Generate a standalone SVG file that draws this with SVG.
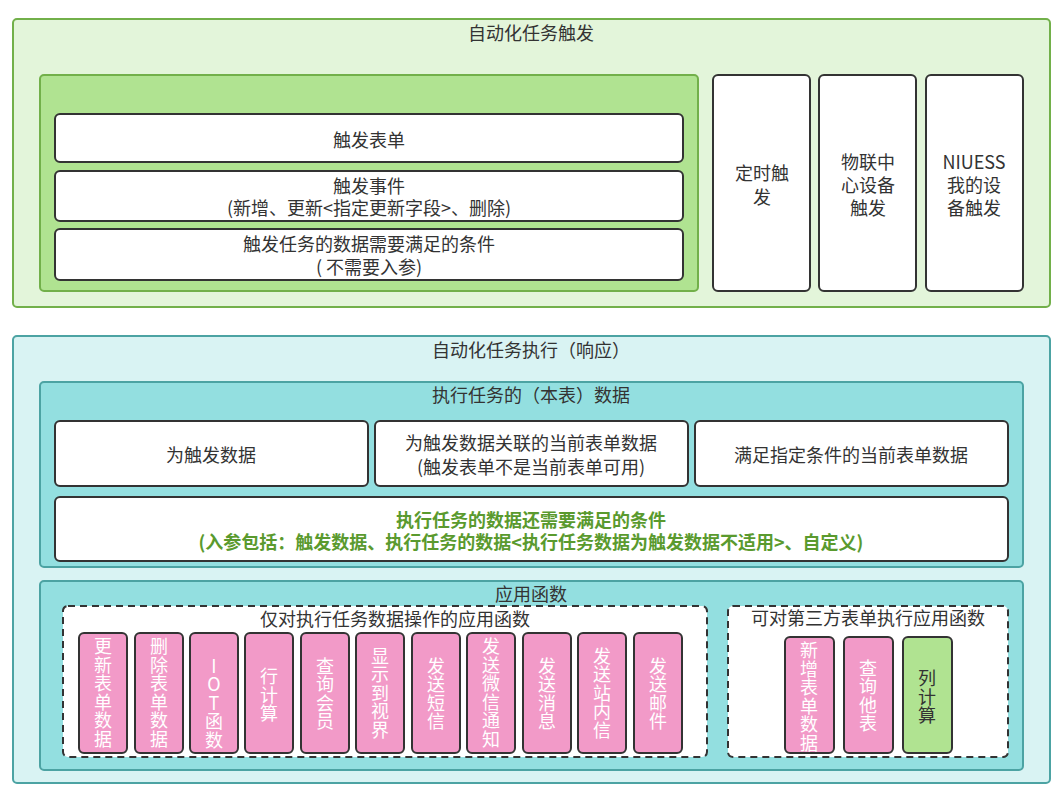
<svg xmlns="http://www.w3.org/2000/svg" width="1062" height="795" viewBox="0 0 1062 795">
<style>
text{font-family:"Noto Sans CJK SC","Liberation Sans",sans-serif;font-size:18px;fill:#333;text-anchor:middle;dominant-baseline:central}
.og{fill:#e3f5da;stroke:#72b04a;stroke-width:2}
.ig{fill:#b0e391;stroke:#72b04a;stroke-width:2}
.ot{fill:#d9f3f3;stroke:#4ca3a3;stroke-width:2}
.it{fill:#93dfe0;stroke:#4ca3a3;stroke-width:2}
.wb{fill:#fff;stroke:#333;stroke-width:2}
.db{fill:#fff;stroke:#333;stroke-width:2;stroke-dasharray:7 5}
.pk{fill:#f29ac8;stroke:#333;stroke-width:2}
.gb{fill:#b0e391;stroke:#333;stroke-width:2}
.v{writing-mode:vertical-rl;text-orientation:upright;letter-spacing:0.5px}
.vw{fill:#fff}
.gt{fill:#5a9a2e;font-weight:bold}
</style>
<g id="trigger">
<rect class="og" x="13" y="19" width="1037" height="288" rx="4"/>
<text x="531" y="32">自动化任务触发</text>
</g>
<g id="trigger-form-group">
<rect class="ig" x="40" y="75" width="658" height="216" rx="4"/>
</g>
<g id="trigger-form">
<rect class="wb" x="55" y="114" width="628" height="48" rx="5"/>
<text x="369" y="139">触发表单</text>
</g>
<g id="trigger-event">
<rect class="wb" x="55" y="171" width="628" height="50" rx="5"/>
<text x="369" y="185">触发事件</text>
<text x="369" y="207">(新增、更新&lt;指定更新字段&gt;、删除)</text>
</g>
<g id="trigger-condition">
<rect class="wb" x="55" y="229" width="628" height="51" rx="5"/>
<text x="369" y="243">触发任务的数据需要满足的条件</text>
<text x="369" y="266">( 不需要入参)</text>
</g>
<g id="timer">
<rect class="wb" x="713" y="75" width="97" height="216" rx="5"/>
<text x="762" y="172">定时触</text>
<text x="762" y="196">发</text>
</g>
<g id="iot-device">
<rect class="wb" x="819" y="75" width="97" height="216" rx="5"/>
<text x="868" y="161">物联中</text>
<text x="868" y="184">心设备</text>
<text x="868" y="207">触发</text>
</g>
<g id="niuess-device">
<rect class="wb" x="926" y="75" width="97" height="216" rx="5"/>
<text x="974" y="161">NIUESS</text>
<text x="974" y="184">我的设</text>
<text x="974" y="207">备触发</text>
</g>

<g id="execute">
<rect class="ot" x="13" y="336" width="1037" height="447" rx="4"/>
<text x="531" y="349">自动化任务执行（响应）</text>
</g>
<g id="exec-data">
<rect class="it" x="40" y="382" width="983" height="185" rx="4"/>
<text x="531" y="394">执行任务的（本表）数据</text>
</g>
<g id="data-trigger">
<rect class="wb" x="55" y="421" width="313" height="65" rx="5"/>
<text x="211" y="454">为触发数据</text>
</g>
<g id="data-related">
<rect class="wb" x="375" y="421" width="313" height="65" rx="5"/>
<text x="531" y="442">为触发数据关联的当前表单数据</text>
<text x="531" y="466">(触发表单不是当前表单可用)</text>
</g>
<g id="data-condition">
<rect class="wb" x="695" y="421" width="313" height="65" rx="5"/>
<text x="851" y="454">满足指定条件的当前表单数据</text>
</g>
<g id="exec-condition">
<rect class="wb" x="55" y="497" width="953" height="64" rx="5"/>
<text class="gt" x="531" y="519">执行任务的数据还需要满足的条件</text>
<text class="gt" x="531" y="541">(入参包括：触发数据、执行任务的数据&lt;执行任务数据为触发数据不适用&gt;、自定义)</text>
</g>

<g id="functions">
<rect class="it" x="40" y="581" width="983" height="189" rx="4"/>
<text x="531" y="593">应用函数</text>
</g>
<g id="own-functions">
<rect class="db" x="63" y="606" width="644" height="151" rx="5"/>
<text x="395" y="618">仅对执行任务数据操作的应用函数</text>
</g>
<g id="f-update">
<rect class="pk" x="79" y="633" width="48" height="120" rx="5"/>
<text class="v vw" x="103" y="693">更新表单数据</text>
</g>
<g id="f-delete">
<rect class="pk" x="135" y="633" width="48" height="120" rx="5"/>
<text class="v vw" x="159" y="693">删除表单数据</text>
</g>
<g id="f-iot">
<rect class="pk" x="190" y="633" width="48" height="120" rx="5"/>
<text class="v vw" x="214" y="703">IOT函数</text>
</g>
<g id="f-rowcalc">
<rect class="pk" x="245" y="633" width="48" height="120" rx="5"/>
<text class="v vw" x="269" y="695">行计算</text>
</g>
<g id="f-member">
<rect class="pk" x="301" y="633" width="48" height="120" rx="5"/>
<text class="v vw" x="325" y="694">查询会员</text>
</g>
<g id="f-view">
<rect class="pk" x="356" y="633" width="48" height="120" rx="5"/>
<text class="v vw" x="380" y="693">显示到视界</text>
</g>
<g id="f-sms">
<rect class="pk" x="412" y="633" width="48" height="120" rx="5"/>
<text class="v vw" x="436" y="694">发送短信</text>
</g>
<g id="f-wechat">
<rect class="pk" x="467" y="633" width="48" height="120" rx="5"/>
<text class="v vw" x="491" y="693">发送微信通知</text>
</g>
<g id="f-message">
<rect class="pk" x="523" y="633" width="48" height="120" rx="5"/>
<text class="v vw" x="547" y="694">发送消息</text>
</g>
<g id="f-inmail">
<rect class="pk" x="578" y="633" width="48" height="120" rx="5"/>
<text class="v vw" x="602" y="693">发送站内信</text>
</g>
<g id="f-email">
<rect class="pk" x="634" y="633" width="48" height="120" rx="5"/>
<text class="v vw" x="658" y="694">发送邮件</text>
</g>
<g id="third-functions">
<rect class="db" x="728" y="606" width="280" height="151" rx="5"/>
<text x="868" y="617">可对第三方表单执行应用函数</text>
</g>
<g id="f-add">
<rect class="pk" x="785" y="637" width="49" height="116" rx="5"/>
<text class="v vw" x="809" y="697">新增表单数据</text>
</g>
<g id="f-query">
<rect class="pk" x="844" y="637" width="49" height="116" rx="5"/>
<text class="v vw" x="868" y="696">查询他表</text>
</g>
<g id="f-colcalc">
<rect class="gb" x="903" y="637" width="49" height="116" rx="5"/>
<text class="v" x="927" y="697">列计算</text>
</g>
<g id="connectors"></g>
</svg>
